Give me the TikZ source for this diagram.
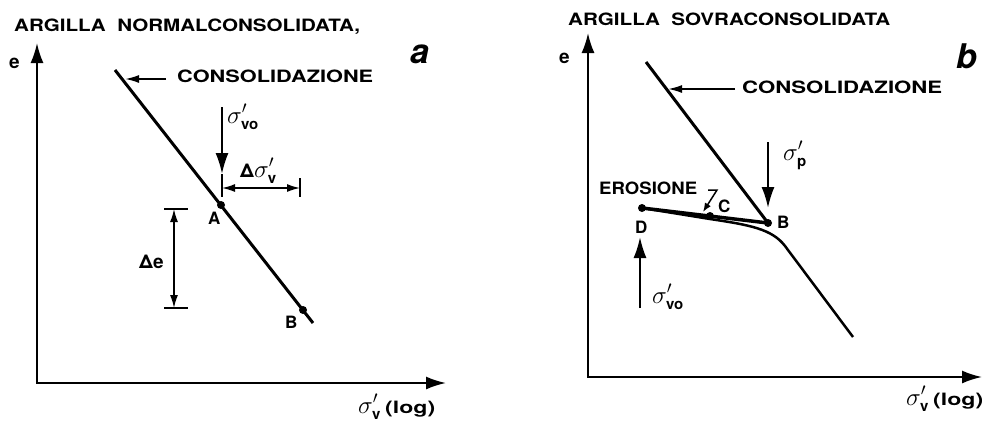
\documentclass[tikz,border=0pt]{standalone}
\usepackage{fontspec}
\usepackage{graphicx}
\setmainfont{TeX Gyre Heros}
\usetikzlibrary{arrows.meta}
\newcommand\wtxt[2]{\resizebox{#1pt}{\height}{#2}}
\newcommand\sbx[1]{\mbox{\fontsize{15}{16}\selectfont\bfseries #1}}
\begin{document}
\begin{tikzpicture}[x=1pt,y=-1pt,
  axis/.style={line width=2pt,{Latex[length=20pt,width=13pt]}-{Latex[length=20pt,width=13pt]}},
  curve/.style={line width=3pt},
  bigarr/.style={line width=2pt,-{Latex[length=21pt,width=13pt]}},
  smallarr/.style={line width=1.8pt,-{Latex[length=14pt,width=8pt]}},
  dim/.style={line width=1.5pt,{Latex[length=13pt,width=8pt]}-{Latex[length=13pt,width=8pt]}},
  tick/.style={line width=1.5pt},
  lbl/.style={font=\fontsize{17}{18}\selectfont\bfseries, inner sep=0pt, anchor=base west},
  sig/.style={font=\fontsize{26}{28}\selectfont, inner sep=0pt, anchor=base west},
  panel/.style={font=\fontsize{34}{36}\selectfont\bfseries\itshape, inner sep=0pt, anchor=base west},
  dot/.style={circle,fill,inner sep=0pt,minimum size=8pt}
]
\useasboundingbox (0,0) rectangle (982,421);

% ---------------- panel a ----------------
\node[lbl] (tA) at (14,31) {\wtxt{346}{ARGILLA\ \ NORMALCONSOLIDATA,}};
\node[panel] (pa) at (410,63) {a};
\node[lbl,font=\fontsize{19}{20}\selectfont\bfseries] (ea) at (9,68) {e};
\coordinate (aY) at (37,43);
\coordinate (aO) at (37,383);
\coordinate (aX) at (446,383);
\draw[axis] (aY) -- (aO) -- (aX);
\node[sig] (xa) at (358,413) {$\sigma'_{\sbx{v}}$\,{\fontsize{17}{18}\selectfont\bfseries\wtxt{50}{(log)}}};

\coordinate (aC1) at (115,70);
\coordinate (aC2) at (313,323);
\draw[curve] (aC1) -- (aC2);
\node[dot] (aA) at (221,205) {};
\node[dot] (aB) at (303,310) {};
\node[lbl] (lA) at (208,224) {A};
\node[lbl] (lB) at (285,328) {B};

\node[lbl] (consa) at (177,82) {\wtxt{196}{CONSOLIDAZIONE}};
\coordinate (consaS) at (166,79);
\coordinate (consaT) at (125,79);
\draw[smallarr] (consaS) -- (consaT);

\coordinate (s0S) at (222,107);
\coordinate (s0T) at (222,174);
\coordinate (s0E) at (222,197);
\draw[bigarr] (s0S) -- (s0T);
\draw[tick] (s0T) -- (s0E);
\node[sig] (s0a) at (227,123) {$\sigma'_{\sbx{vo}}$};

\coordinate (dsL) at (222,188);
\coordinate (dsR) at (300,188);
\coordinate (dsT1) at (300,178);
\coordinate (dsT2) at (300,197);
\draw[dim] (dsL) -- (dsR);
\draw[tick] (dsT1) -- (dsT2);
\node[sig] (dsa) at (240,177) {{\fontsize{19}{20}\selectfont\bfseries Δ}$\sigma'_{\sbx{v}}$};

\coordinate (deT) at (174,209);
\coordinate (deB) at (174,308);
\coordinate (deT1) at (164,209);
\coordinate (deT2) at (188,209);
\coordinate (deB1) at (164,308);
\coordinate (deB2) at (188,308);
\draw[dim] (deT) -- (deB);
\draw[tick] (deT1) -- (deT2);
\draw[tick] (deB1) -- (deB2);
\node[lbl,font=\fontsize{19}{20}\selectfont\bfseries] (dea) at (139,268) {Δe};

% ---------------- panel b ----------------
\node[lbl] (tB) at (568,25) {\wtxt{322}{ARGILLA\ \ SOVRACONSOLIDATA}};
\node[panel] (pb) at (956,68) {b};
\node[lbl,font=\fontsize{19}{20}\selectfont\bfseries] (eb) at (559,63) {e};
\coordinate (bY) at (588,33);
\coordinate (bO) at (588,377);
\coordinate (bX) at (982,377);
\draw[axis] (bY) -- (bO) -- (bX);
\node[sig] (xb) at (906,405) {$\sigma'_{\sbx{v}}$\,{\fontsize{17}{18}\selectfont\bfseries\wtxt{50}{(log)}}};

\coordinate (bC1) at (646,62);
\node[dot] (bB) at (768,223) {};
\node[dot] (bD) at (642,208) {};
\node[dot] (bC) at (710,216) {};
\draw[curve] (bC1) -- (bB.center);
\draw[line width=3.5pt] (bD.center) -- (bB.center);
\coordinate (r1) at (710,219);
\coordinate (r2) at (785,246);
\coordinate (r3) at (853,337);
\draw[line width=2.5pt] (bD.center) -- (r1) .. controls (750,225) and (772,229) .. (r2) -- (r3);
\node[lbl] (lBb) at (777,228) {B};
\node[lbl] (lC) at (718,212) {C};
\node[lbl] (lD) at (635,233) {D};

\node[lbl] (consb) at (742,93) {\wtxt{200}{CONSOLIDAZIONE}};
\coordinate (consbS) at (735,89);
\coordinate (consbT) at (668,89);
\draw[smallarr] (consbS) -- (consbT);

\coordinate (spS) at (768,142);
\coordinate (spT) at (768,208);
\draw[bigarr] (spS) -- (spT);
\node[sig] (spb) at (783,160) {$\sigma'_{\sbx{p}}$};

\node[lbl] (ero) at (599,194) {\wtxt{98}{EROSIONE}};
\coordinate (z1) at (708,190);
\coordinate (z2) at (717,190);
\coordinate (z3) at (703,212);
\draw[line width=1.5pt,-{Latex[length=9pt,width=7pt]}] (z1) -- (z2) -- (z3);

\coordinate (s0bS) at (640,308);
\coordinate (s0bT) at (640,237);
\draw[bigarr] (s0bS) -- (s0bT);
\node[sig] (s0b) at (652,303) {$\sigma'_{\sbx{vo}}$};
\end{tikzpicture}
\end{document}
